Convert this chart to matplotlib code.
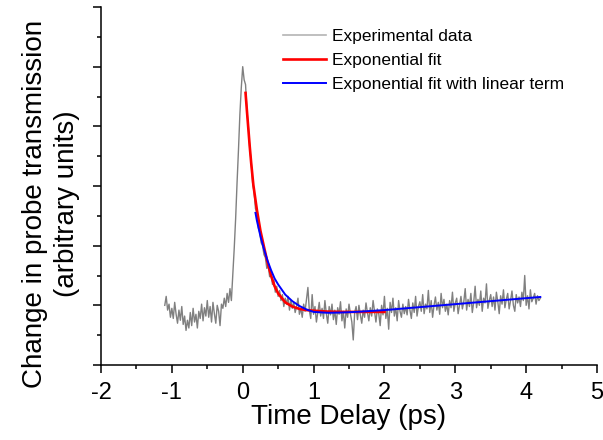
import numpy as np
import matplotlib
matplotlib.use("Agg")
import matplotlib.pyplot as plt
from matplotlib.lines import Line2D
from matplotlib.ticker import MultipleLocator

plt.rcParams['font.family'] = ['Liberation Sans', 'DejaVu Sans']
plt.rcParams['axes.unicode_minus'] = False

# experimental trace, sampled every 0.02 ps starting at -1.10 ps
exp_start = -1.10
exp_step = 0.02
exp_signal = [
    # -1.10 .. -0.16 (baseline before pump)
    1.00, 1.15, 0.92, 1.02, 0.80, 0.95, 0.78, 1.05, 0.85, 0.70,
    0.92, 0.75, 0.98, 0.68, 0.82, 0.58, 0.75, 0.62, 0.88, 0.66,
    0.95, 0.72, 0.85, 0.62, 0.90, 0.78, 1.02, 0.74, 0.96, 0.82,
    1.08, 0.80, 0.98, 0.72, 1.05, 0.86, 0.70, 1.00, 0.90, 0.66,
    1.02, 0.95, 1.12, 0.98, 1.20, 1.05, 1.28, 1.08,
    # -0.14 .. 0.00 (rise)
    1.50, 1.95, 2.45, 3.05, 3.60, 4.20, 4.65, 5.00,
    # 0.02 .. 0.50 (fast decay)
    4.78, 4.70, 4.25, 3.98, 3.62, 3.40, 3.05, 2.90, 2.62, 2.55,
    2.30, 2.22, 2.05, 2.00, 1.85, 1.80, 1.62, 1.66, 1.48, 1.52,
    1.35, 1.42, 1.22, 1.32, 1.15,
    # 0.52 .. 4.20 (slow tail)
    1.25, 1.08, 1.18, 0.98, 1.12, 1.02, 1.15, 0.92, 1.08, 0.95,
    1.05, 0.88, 0.98, 1.12, 0.85, 0.95, 0.80, 1.02, 0.90, 1.10,
    1.30, 0.92, 0.78, 1.18, 0.85, 0.98, 0.72, 0.88, 1.05, 0.82,
    0.95, 0.78, 1.08, 0.86, 0.70, 0.98, 0.84, 1.02, 0.76, 0.92,
    0.68, 0.96, 0.85, 1.06, 0.74, 0.90, 0.62, 0.94, 0.80, 1.02,
    0.86, 0.72, 0.42, 0.88, 0.98, 0.76, 1.00, 0.84, 0.70, 0.92,
    0.80, 1.04, 0.88, 0.74, 0.96, 0.82, 1.08, 0.90, 0.72, 0.94,
    0.86, 0.66, 1.00, 0.84, 1.15, 0.78, 0.95, 0.60, 1.05, 0.88,
    1.12, 0.82, 0.96, 0.74, 1.08, 0.90, 0.80, 1.02, 0.86, 0.98,
    0.84, 1.10, 0.92, 0.78, 1.04, 0.88, 1.15, 0.82, 0.98, 1.06,
    0.90, 1.18, 0.86, 1.02, 0.94, 1.25, 0.88, 1.08, 0.80, 1.00,
    1.14, 0.92, 1.05, 0.85, 1.20, 0.96, 1.10, 0.90, 1.02, 0.84,
    1.08, 0.96, 1.22, 0.90, 1.04, 1.12, 0.86, 1.00, 1.15, 0.94,
    1.06, 1.28, 0.92, 1.10, 0.98, 1.20, 0.88, 1.05, 1.32, 0.96,
    1.10, 1.00, 1.24, 0.90, 1.12, 1.04, 1.36, 0.95, 1.08, 1.18,
    0.98, 1.14, 0.92, 1.22, 1.06, 0.86, 1.16, 1.02, 1.26, 0.96,
    1.10, 1.20, 0.94, 1.08, 1.24, 1.00, 0.90, 1.18, 1.04, 1.14,
    0.98, 1.22, 1.08, 1.50, 1.00, 1.16, 0.94, 1.26, 1.06, 1.12,
    1.20, 1.02, 1.16, 1.08, 1.12,
]
exp_time = exp_start + exp_step * np.arange(len(exp_signal))

# exponential fit
fit1_time = [0.04, 0.06, 0.08, 0.10, 0.12, 0.15, 0.20, 0.25, 0.30, 0.35,
             0.40, 0.45, 0.50, 0.60, 0.70, 0.80, 0.90, 1.00, 1.20, 1.40,
             1.60, 1.80, 2.00]
fit1_signal = [4.56, 4.25, 3.95, 3.65, 3.38, 3.02, 2.60, 2.25, 1.98, 1.72,
               1.50, 1.32, 1.20, 1.05, 0.98, 0.94, 0.92, 0.91, 0.895, 0.89,
               0.89, 0.89, 0.89]

# exponential fit with linear term
fit2_time = [0.18, 0.20, 0.25, 0.30, 0.35, 0.40, 0.45, 0.50, 0.60, 0.70,
             0.80, 0.90, 1.00, 1.20, 1.40, 1.60, 1.80, 2.00, 2.50, 3.00,
             3.50, 4.00, 4.20]
fit2_signal = [2.55, 2.42, 2.16, 1.94, 1.75, 1.59, 1.45, 1.35, 1.18, 1.07,
               0.99, 0.93, 0.89, 0.875, 0.88, 0.89, 0.905, 0.92, 0.97, 1.02,
               1.07, 1.12, 1.14]

fig = plt.figure(figsize=(6.03, 4.40), dpi=100)
ax = fig.add_axes([101 / 603, 75 / 440, 496 / 603, 358 / 440])

ax.plot(exp_time, exp_signal, color='#808080', lw=1.0)
ax.plot(fit1_time, fit1_signal, color='#ff0000', lw=1.9)
ax.plot(fit2_time, fit2_signal, color='#0000ff', lw=1.4)

ax.set_xlim(-2, 5)
ax.set_ylim(0, 6)
ax.xaxis.set_major_locator(MultipleLocator(1))
ax.xaxis.set_minor_locator(MultipleLocator(0.5))
ax.yaxis.set_major_locator(MultipleLocator(1))
ax.yaxis.set_minor_locator(MultipleLocator(0.5))
ax.set_yticklabels([])

for side in ['top', 'right']:
    ax.spines[side].set_visible(False)
for side in ['left', 'bottom']:
    ax.spines[side].set_linewidth(1.1)

ax.tick_params(which='major', direction='out', length=6, width=1.1, labelsize=17, pad=6)
ax.tick_params(which='minor', direction='out', length=3, width=1.1)

ax.set_xlabel('Time Delay (ps)', fontsize=20, labelpad=0)
ax.set_ylabel('Change in probe transmission\n(arbitrary units)', fontsize=20,
              linespacing=1.3)
ax.yaxis.set_label_coords(-0.043, 0.45)

handles = [Line2D([], [], color='#b4b4b4', lw=1.2),
           Line2D([], [], color='#ff0000', lw=1.9),
           Line2D([], [], color='#0000ff', lw=1.4)]
labels = ['Experimental data', 'Exponential fit', 'Exponential fit with linear term']
fig.legend(handles, labels, loc='upper left', bbox_to_anchor=(283 / 603, 1 - 29 / 440),
           frameon=False, fontsize=12.5, handlelength=2.5, handletextpad=0.3,
           labelspacing=0.5, borderpad=0, borderaxespad=0)

plt.savefig('out.png', dpi=100)
